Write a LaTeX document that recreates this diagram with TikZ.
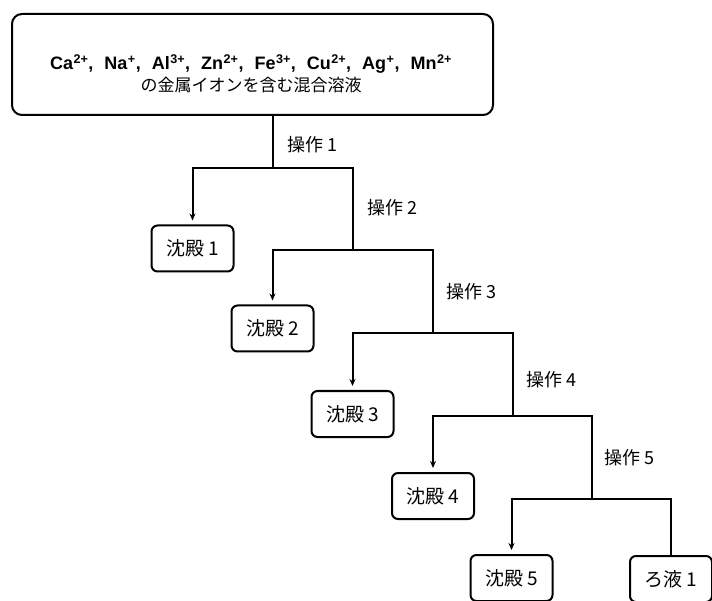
\documentclass[tikz,border=0pt]{standalone}
\usepackage{fontspec}
\setmainfont{Liberation Sans}
\newfontfamily\jp{Noto Sans CJK JP}
\usetikzlibrary{arrows.meta}
\newcommand{\ion}[2]{#1\textsuperscript{\kern0.5pt#2}}
\newcommand{\sepc}{,\hspace{11pt}}
\tikzset{
  line/.style={line width=2pt, line join=miter},
  arr/.style={line, -{Stealth[length=7pt,width=6pt]}, shorten >=4pt},
  result/.style={draw, line width=2pt, rounded corners=6pt, minimum width=82pt, minimum height=46pt, inner sep=0pt, font=\jp\fontsize{19}{22}\selectfont},
  oplabel/.style={anchor=west, inner sep=0pt, font=\jp\fontsize{18}{22}\selectfont},
  topbox/.style={draw, line width=2pt, rounded corners=10pt, minimum width=481pt, minimum height=101pt, inner sep=0pt},
  toptext/.style={inner sep=0pt, align=center}
}
\begin{document}
\begin{tikzpicture}[x=1pt,y=-1pt]
\useasboundingbox (0,0) rectangle (712,601);
\node[topbox] (top) at (252.5,64.5) {};
\node[toptext] (tt) at (251,74) {\bfseries\fontsize{18}{26}\selectfont \ion{Ca}{2+}\sepc\ion{Na}{+}\sepc\ion{Al}{3+}\sepc\ion{Zn}{2+}\sepc\ion{Fe}{3+}\sepc\ion{Cu}{2+}\sepc\ion{Ag}{+}\sepc\ion{Mn}{2+}\\[3pt]{\mdseries\jp\fontsize{17}{22}\selectfont の金属イオンを含む混合溶液}};
\coordinate (j1) at (273,168);
\coordinate (j2) at (353,250);
\coordinate (j3) at (433,333);
\coordinate (j4) at (513,416);
\coordinate (j5) at (592,499);
\node[result] (b1) at (192.5,248.5) {沈殿 1};
\node[result] (b2) at (272.5,328.5) {沈殿 2};
\node[result] (b3) at (352.5,414) {沈殿 3};
\node[result] (b4) at (433,496) {沈殿 4};
\node[result] (b5) at (511.5,578) {沈殿 5};
\node[result] (r1) at (671,579) {ろ液 1};
\node[oplabel] (o1) at (287,145) {操作 1};
\node[oplabel] (o2) at (367,208) {操作 2};
\node[oplabel] (o3) at (446,292) {操作 3};
\node[oplabel] (o4) at (526,380) {操作 4};
\node[oplabel] (o5) at (604,458) {操作 5};
\draw[line] (top.south -| j1) -- (j1);
\draw[arr] (j1) -| (b1.north);
\draw[line] (j1) -| (j2);
\draw[arr] (j2) -| (b2.north);
\draw[line] (j2) -| (j3);
\draw[arr] (j3) -| (b3.north);
\draw[line] (j3) -| (j4);
\draw[arr] (j4) -| (b4.north);
\draw[line] (j4) -| (j5);
\draw[arr] (j5) -| (b5.north);
\draw[line] (j5) -| (r1.north);
\end{tikzpicture}
\end{document}
